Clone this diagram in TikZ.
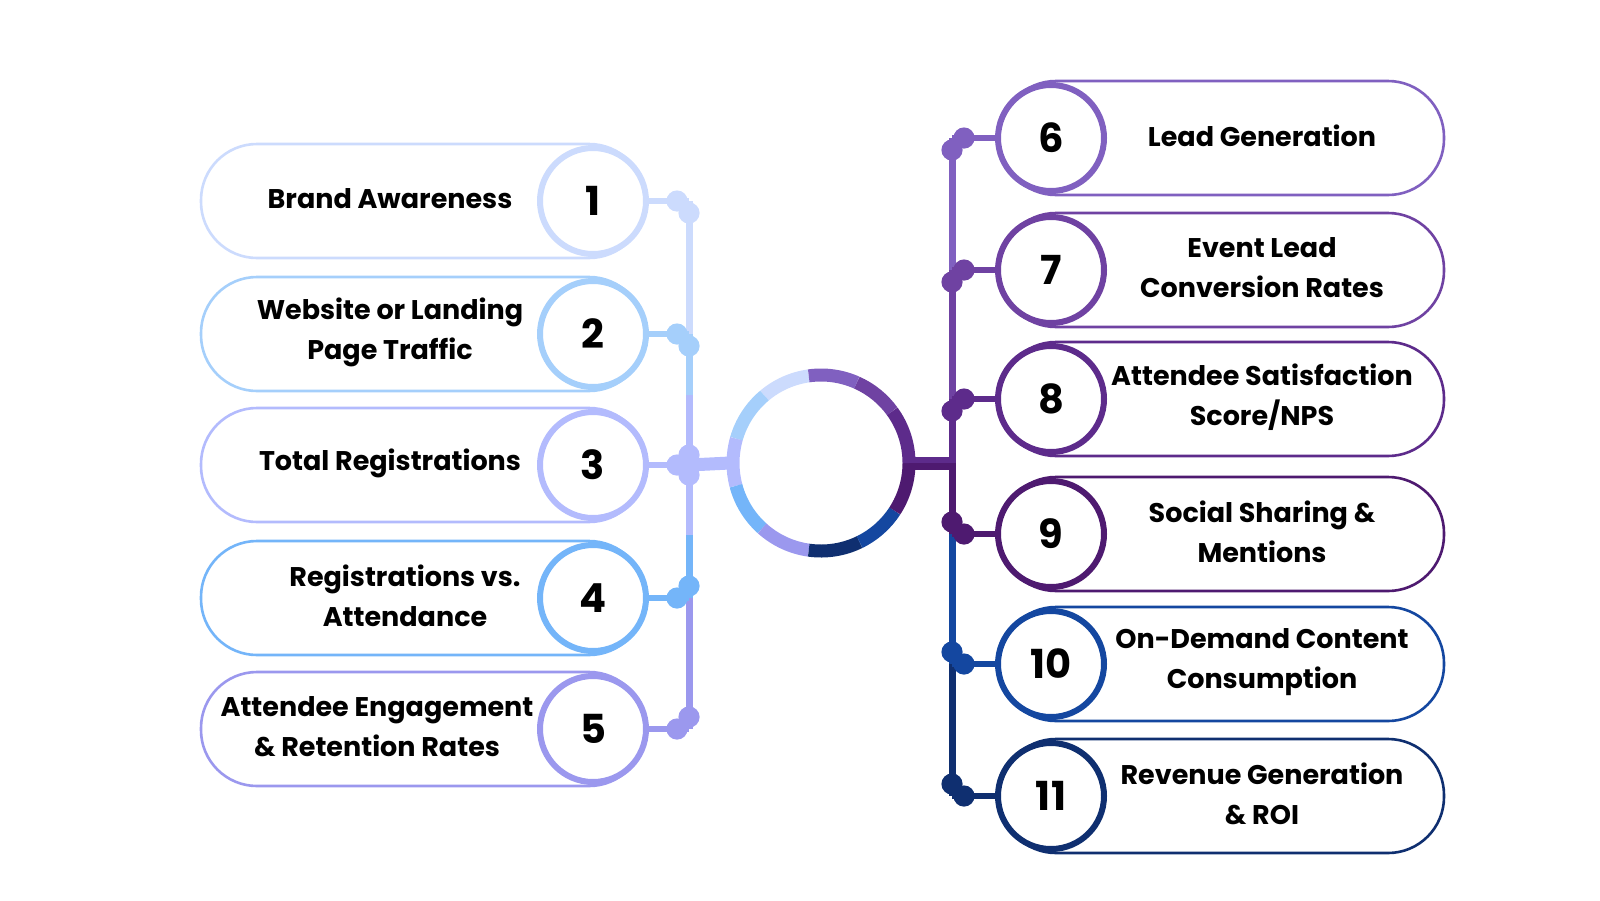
\documentclass[tikz,border=0pt]{standalone}
\usepackage{fontspec}
\setmainfont{Poppins}
\definecolor{c1}{HTML}{CCDBFD}\definecolor{c2}{HTML}{A5CFFB}\definecolor{c3}{HTML}{B3BBFD}
\definecolor{c4}{HTML}{74B5F9}\definecolor{c5}{HTML}{9B98EE}\definecolor{c6}{HTML}{8060C0}
\definecolor{c7}{HTML}{6F42A2}\definecolor{c8}{HTML}{5D2B8B}\definecolor{c9}{HTML}{4E1A70}
\definecolor{c10}{HTML}{1447A0}\definecolor{c11}{HTML}{0F2F70}
\begin{document}
\begin{tikzpicture}[x=0.5pt,y=-0.5pt,
  pill/.style={line width=1.3pt,fill=white,rounded corners=28pt},
  num/.style={circle,line width=3pt,fill=white,minimum size=53pt,inner sep=0pt,font=\fontsize{20}{20}\selectfont\bfseries},
  lab/.style={align=center,font=\fontsize{13.5}{20}\selectfont\bfseries},
  spine/.style={line width=3.5pt},
  conn/.style={line width=3pt},
  ring/.style={line width=6.5pt},
  dot/.style={}]
\useasboundingbox (0,0) rectangle (1600,900);
% left pills
\foreach \i/\y/\t/\tx in {1/201/{Brand Awareness}/390,2/334/{Website or Landing\\Page Traffic}/390,3/465/{Total Registrations}/390,4/598/{Registrations vs.\\Attendance}/405,5/729/{Attendee Engagement\\\& Retention Rates}/377}{
  \draw[pill,draw=c\i] (201,\y-57) rectangle (645,\y+57);
  \node[lab] (t\i) at (\tx,\y-2) {\t};
  \node[num,draw=c\i] (n\i) at (593,\y) {\i};
}
% right pills
\foreach \i/\y/\t in {6/138/{Lead Generation},7/270/{Event Lead\\Conversion Rates},8/399/{Attendee Satisfaction\\Score/NPS},9/534/{Social Sharing \&\\Mentions},10/664/{On-Demand Content\\Consumption},11/796/{Revenue Generation\\\& ROI}}{
  \draw[pill,draw=c\i] (1000,\y-57) rectangle (1444,\y+57);
  \node[lab] (t\i) at (1262,\y-2) {\t};
  \node[num,draw=c\i] (n\i) at (1051,\y) {\i};
}
% hub ring
\node[circle,minimum size=95pt,inner sep=0pt,outer sep=0pt] (hub) at (821,463) {};
\foreach \c/\a/\b in {c1/98/130,c2/130/164,c3/164/195,c4/195/228,c5/228/262,c11/262/296,c10/296/327,c9/327/360,c8/0/36,c7/36/66,c6/66/98}{
  \draw[ring,\c] (hub.center) ++(\a:44pt) arc[start angle=\a,end angle=\b,radius=44pt];
}
% left spine
\coordinate (L1) at (689,201);\coordinate (L2) at (689,334);\coordinate (L3) at (689,465);
\coordinate (L4) at (689,598);\coordinate (L5) at (689,729);
\draw[spine,c1] (L1) -- (689,334);
\draw[spine,c2] (L2) -- (689,395);
\draw[spine,c3] (689,395) -- (689,535);
\draw[spine,c4] (689,535) -- (L4);
\draw[spine,c5] (L4) -- (L5);
\draw[line width=6.5pt,c3] (L3) -- ([xshift=2pt]hub.west);
\foreach \i in {1,...,5}{\draw[conn,c\i] (n\i.east) -- (L\i);}
\foreach \i in {1,2}{\fill[c\i] (L\i) ++(-12,0) circle (5.3pt); \fill[c\i] (L\i) ++(0,12) circle (5.3pt);}
\fill[c3] (L3) ++(-12,0) circle (5.3pt); \fill[c3] (L3) ++(0,-10) circle (5.3pt); \fill[c3] (L3) ++(0,10) circle (5.3pt);
\foreach \i in {4,5}{\fill[c\i] (L\i) ++(-12,0) circle (5.3pt); \fill[c\i] (L\i) ++(0,-12) circle (5.3pt);}
% right spine
\coordinate (R6) at (952,138);\coordinate (R7) at (952,270);\coordinate (R8) at (952,399);
\coordinate (R9) at (952,534);\coordinate (R10) at (952,664);\coordinate (R11) at (952,796);
\draw[spine,c6] (R6) -- (R7);
\draw[spine,c7] (R7) -- (R8);
\draw[spine,c8] (R8) -- (952,463);
\draw[spine,c9] (952,463) -- (R9);
\draw[spine,c10] (R9) -- (R10);
\draw[spine,c11] (R10) -- (R11);
\fill[c8] (hub.east) ++(-4,-6.5) rectangle (955,463);
\fill[c9] (hub.east) ++(-4,0) rectangle (955,469.5);
\foreach \i in {6,...,11}{\draw[conn,c\i] (n\i.west) -- (R\i);}
\foreach \i in {6,7,8}{\fill[c\i] (R\i) ++(12,0) circle (5.3pt); \fill[c\i] (R\i) ++(0,12) circle (5.3pt);}
\foreach \i in {9,10,11}{\fill[c\i] (R\i) ++(12,0) circle (5.3pt); \fill[c\i] (R\i) ++(0,-12) circle (5.3pt);}
\end{tikzpicture}
\end{document}
